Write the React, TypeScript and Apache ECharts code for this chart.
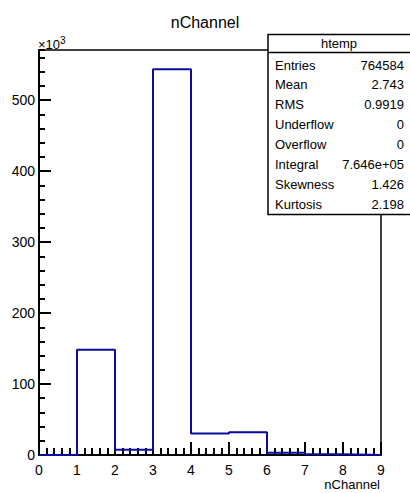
import React, { useEffect, useRef } from "react";
import * as echarts from "echarts";

// ---- data ----
const chartTitle = "nChannel";
const xTitle = "nChannel";
const binEdges = [0, 1, 2, 3, 4, 5, 6, 7, 8, 9];
const binCounts = [0, 148300, 7300, 543600, 30200, 32000, 3000, 900, 0];
const yMax = 570800;
const yMajorStep = 100000;
const yMinorStep = 20000;
const yScaleLabel = "×10";
const yScaleExp = "3";
const statTitle = "htemp";
const statLabels = ["Entries", "Mean", "RMS", "Underflow", "Overflow", "Integral", "Skewness", "Kurtosis"];
const statValues = ["764584", "2.743", "0.9919", "0", "0", "7.646e+05", "1.426", "2.198"];

const FONT = "'Liberation Sans', Arial, Helvetica, sans-serif";
const LINE_COLOR = "#0a0a9c";

export default function App() {
  const ref = useRef<HTMLDivElement>(null);
  useEffect(() => {
    if (!ref.current) return;
    const chart = echarts.init(ref.current, null, { renderer: "svg" });

    const stepData = binEdges.map((e, i) => [e, i < binCounts.length ? binCounts[i] : 0]);

    const boxX = 268;
    const boxY = 34.5;
    const rowY0 = 65;
    const rowStep = 19.9;

    const statGraphics: any[] = [];
    statLabels.forEach((lab, i) => {
      statGraphics.push({
        type: "text",
        x: 275,
        y: rowY0 + i * rowStep,
        style: { text: lab, font: `13px ${FONT}`, fill: "#000", textAlign: "left", textVerticalAlign: "middle" },
        z: 101,
      });
      statGraphics.push({
        type: "text",
        x: 404,
        y: rowY0 + i * rowStep,
        style: { text: statValues[i], font: `13px ${FONT}`, fill: "#000", textAlign: "right", textVerticalAlign: "middle" },
        z: 101,
      });
    });

    chart.setOption({
      animation: false,
      backgroundColor: "#fff",
      title: {
        text: chartTitle,
        left: "center",
        top: 9,
        textStyle: { fontFamily: FONT, fontSize: 16, fontWeight: "normal", color: "#000" },
      },
      grid: {
        left: 39,
        top: 50,
        right: 29,
        bottom: 38,
        outerBoundsMode: "none",
      },
      xAxis: [
        {
          type: "value",
          min: 0,
          max: 9,
          interval: 1,
          position: "bottom",
          axisLine: { show: true, onZero: false, lineStyle: { color: "#000", width: 2 } },
          axisTick: { show: true, inside: true, length: 13, lineStyle: { color: "#000", width: 2 } },
          minorTick: { show: true, splitNumber: 5, length: 7, lineStyle: { color: "#000", width: 2 } },
          splitLine: { show: false },
          axisLabel: { show: true, color: "#000", fontFamily: FONT, fontSize: 14, margin: 8 },
        },
        {
          type: "value",
          min: 0,
          max: 9,
          interval: 1,
          position: "top",
          axisLine: { show: true, onZero: false, lineStyle: { color: "#000", width: 1.5 } },
          axisTick: { show: false },
          splitLine: { show: false },
          axisLabel: { show: false },
        },
      ],
      yAxis: [
        {
          type: "value",
          min: 0,
          max: yMax,
          interval: yMajorStep,
          position: "left",
          axisLine: { show: true, onZero: false, lineStyle: { color: "#000", width: 2 } },
          axisTick: { show: true, inside: true, length: 12, lineStyle: { color: "#000", width: 2 } },
          splitLine: { show: false },
          axisLabel: {
            show: true,
            color: "#000",
            fontFamily: FONT,
            fontSize: 14,
            margin: 4,
            showMaxLabel: false,
            formatter: (v: number) => String(Math.round(v / 1000)),
          },
        },
        {
          type: "value",
          min: 0,
          max: yMax,
          interval: yMinorStep,
          position: "left",
          offset: 0,
          axisLine: { show: false },
          axisTick: { show: true, inside: true, length: 6, lineStyle: { color: "#000", width: 2 } },
          splitLine: { show: false },
          axisLabel: { show: false },
        },
        {
          type: "value",
          min: 0,
          max: yMax,
          position: "right",
          offset: 0,
          axisLine: { show: true, onZero: false, lineStyle: { color: "#000", width: 1.5 } },
          axisTick: { show: false },
          splitLine: { show: false },
          axisLabel: { show: false },
        },
      ],
      series: [
        {
          type: "line",
          step: "end",
          data: stepData,
          xAxisIndex: 0,
          yAxisIndex: 0,
          showSymbol: false,
          symbol: "none",
          lineStyle: { color: LINE_COLOR, width: 2 },
        },
      ],
      graphic: [
        {
          type: "text",
          left: 38,
          top: 35,
          style: {
            text: `{b|${yScaleLabel}}{s|${yScaleExp}}`,
            rich: {
              b: { fontFamily: FONT, fontSize: 13, fill: "#000", color: "#000", verticalAlign: "bottom" },
              s: { fontFamily: FONT, fontSize: 10, fill: "#000", color: "#000", verticalAlign: "top", padding: [0, 0, 6, 0] },
            },
          },
          z: 50,
        },
        {
          type: "text",
          x: 380,
          y: 484,
          style: { text: xTitle, font: `13px ${FONT}`, fill: "#000", textAlign: "right", textVerticalAlign: "middle" },
          z: 50,
        },
        {
          type: "rect",
          shape: { x: boxX, y: boxY, width: 170, height: 180 },
          style: { fill: "#fff", stroke: "#000", lineWidth: 1.5 },
          z: 100,
        },
        {
          type: "line",
          shape: { x1: boxX, y1: 52.5, x2: 420, y2: 52.5 },
          style: { stroke: "#000", lineWidth: 1.5 },
          z: 101,
        },
        {
          type: "text",
          x: 339,
          y: 43.5,
          style: { text: statTitle, font: `13px ${FONT}`, fill: "#000", textAlign: "center", textVerticalAlign: "middle" },
          z: 101,
        },
        ...statGraphics,
      ],
    });
    return () => chart.dispose();
  }, []);
  return (
    <div
      ref={ref}
      style={{ position: "fixed", left: 0, top: 0, width: 410, height: 493, background: "#fff" }}
    />
  );
}
